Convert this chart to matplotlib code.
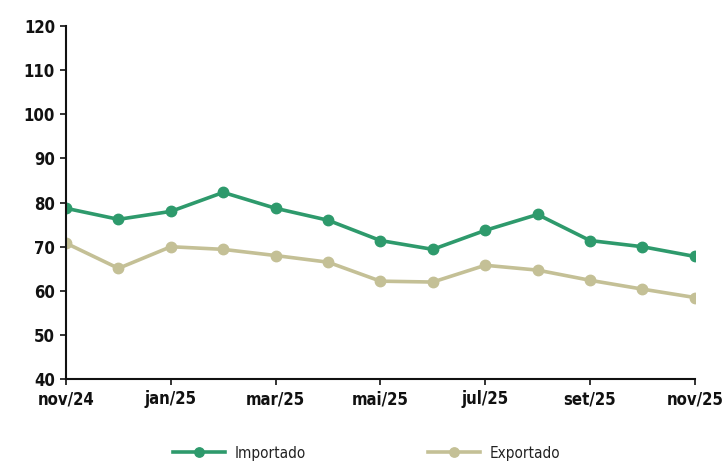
import matplotlib
matplotlib.use('Agg')
import matplotlib.pyplot as plt

plt.rcParams['font.family'] = ['DejaVu Sans']
plt.rcParams['font.stretch'] = 'condensed'

# dados
meses = ['nov/24', 'dez/24', 'jan/25', 'fev/25', 'mar/25', 'abr/25', 'mai/25',
         'jun/25', 'jul/25', 'ago/25', 'set/25', 'out/25', 'nov/25']
importado = [78.7, 76.2, 78.0, 82.3, 78.7, 76.0, 71.4, 69.4, 73.7, 77.3, 71.4, 70.0, 67.8]
exportado = [70.8, 65.1, 70.0, 69.4, 68.0, 66.5, 62.2, 62.0, 65.8, 64.7, 62.4, 60.4, 58.5]

cor_imp = '#2E9A6C'
cor_exp = '#C4C096'

fig = plt.figure(figsize=(7.26, 4.63), dpi=100, facecolor='white')
ax = fig.add_axes([0.091, 0.181, 0.866, 0.763])

x = list(range(len(meses)))
ax.plot(x, importado, color=cor_imp, linewidth=2.6, marker='o', markersize=7.5,
        label='Importado')
ax.plot(x, exportado, color=cor_exp, linewidth=2.6, marker='o', markersize=7.5,
        label='Exportado')

ax.set_xlim(0, len(meses) - 1)
ax.set_ylim(40, 120)
ax.set_yticks(range(40, 121, 10))
ax.set_xticks(x[::2])
ax.set_xticklabels(meses[::2])

for s in ['top', 'right']:
    ax.spines[s].set_visible(False)
for s in ['left', 'bottom']:
    ax.spines[s].set_linewidth(1.5)
    ax.spines[s].set_color('#111111')
ax.tick_params(axis='both', length=4, width=1.2, labelsize=12, colors='#111111', pad=4)
for lbl in ax.get_xticklabels() + ax.get_yticklabels():
    lbl.set_fontweight('semibold')

leg = fig.legend(loc='lower center', bbox_to_anchor=(0.505, -0.025), ncol=2,
                 frameon=False, fontsize=11, columnspacing=8.0, handlelength=3.4,
                 handletextpad=0.6, markerscale=0.9)
for t in leg.get_texts():
    t.set_color('#222222')

fig.savefig('out.png', dpi=100, facecolor='white')
